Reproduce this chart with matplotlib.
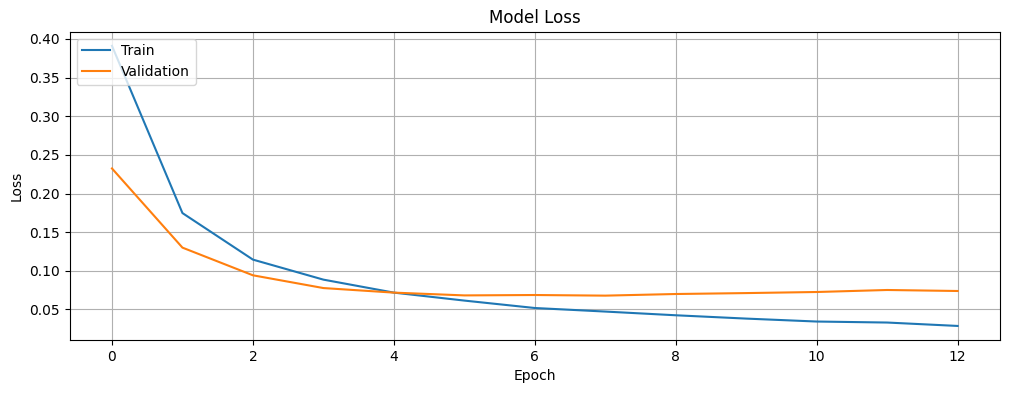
import matplotlib.pyplot as plt

# Loss per epoch
epochs = list(range(13))
train_loss = [0.391, 0.1747, 0.1145, 0.0886, 0.0718, 0.0615, 0.0519,
              0.0473, 0.0425, 0.0382, 0.0344, 0.0331, 0.0287]
val_loss = [0.2324, 0.130, 0.0942, 0.0777, 0.0718, 0.0682, 0.0687,
            0.0679, 0.0700, 0.0712, 0.0726, 0.0752, 0.0739]

fig = plt.figure(figsize=(10.1, 3.93), dpi=100)
plt.plot(epochs, train_loss, label='Train')
plt.plot(epochs, val_loss, label='Validation')
plt.title('Model Loss')
plt.xlabel('Epoch')
plt.ylabel('Loss')
plt.legend(loc='upper left')
plt.grid(True)
plt.subplots_adjust(left=0.069, right=0.990, top=0.919, bottom=0.135)
plt.savefig('out.png', dpi=100)
